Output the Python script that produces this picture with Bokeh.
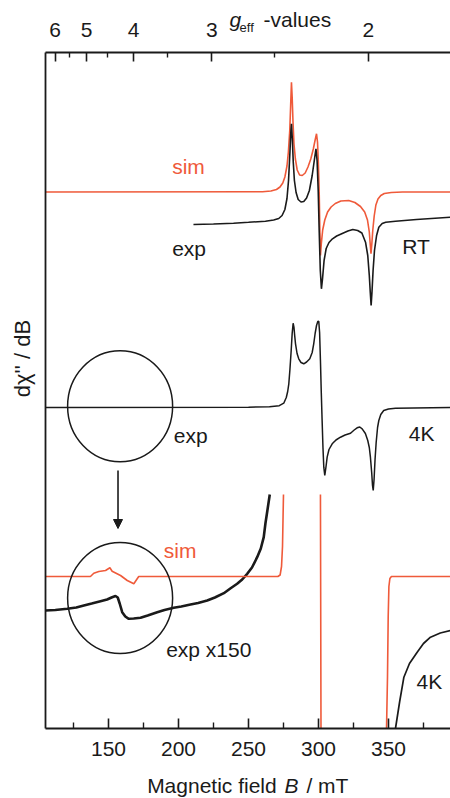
import numpy as np
from bokeh.plotting import figure
from bokeh.models import Range1d, LinearAxis, FixedTicker, Label, Arrow, NormalHead
from bokeh.embed import file_html
from bokeh.resources import INLINE

# ---------------- data ----------------
B_START, B_END = 105.0, 394.3        # field range of the axes, mT
HNU_OVER_MUB = 671.4                 # mT  (B = h*nu / (g*muB), X-band)

# g_eff ticks on the top axis
g_major = [6, 5, 4, 3, 2]
g_minor = [5.5, 4.5, 3.5, 2.5]
b_major = [150, 200, 250, 300, 350]
b_minor = [125, 175, 225, 275, 325, 375]

# Room temperature, simulation (relative intensity)
rt_sim_B = [105.0, 260.0, 266.0, 270.0, 272.5, 274.5, 276.0, 277.5, 278.5, 279.5, 280.2,
            280.7, 281.2, 281.8, 282.5, 283.5, 284.8, 286.5, 288.4, 290.5, 292.5, 294.5,
            296.3, 297.6, 298.6, 299.3, 299.9, 300.5, 301.0, 301.4, 302.0, 303.0, 304.5,
            306.5, 309.0, 312.0, 316.0, 321.6, 326.0, 330.0, 333.0, 335.0, 336.3, 337.0,
            337.5, 338.1, 338.8, 339.8, 341.0, 342.5, 344.5, 347.0, 352.0, 360.0, 394.3]
rt_sim_I = [0, 0.3, 1, 2.5, 5, 9, 15, 26, 40, 62, 90,
            109.8, 95, 70, 48, 33, 22, 17, 16.5, 19, 25, 33,
            43, 52, 58.2, 50, 30, 0, -40, -63.5, -52, -38, -28,
            -20, -15, -11.5, -9, -8.5, -10.5, -14.5, -20, -28, -40, -53,
            -61.8, -52, -38, -24, -13, -7, -3.5, -1.5, -0.5, 0, 0]
RT_SIM_OFFSET = 536.5

# Room temperature, experiment
rt_exp_B = [210.7, 225.0, 239.3, 250.0, 262.1, 268.0, 271.6, 274.0, 276.0, 277.5, 278.6,
            279.6, 280.3, 280.7, 281.3, 282.0, 282.8, 284.0, 285.5, 287.5, 289.5, 291.5,
            293.5, 295.5, 297.0, 298.2, 299.0, 299.8, 300.5, 301.3, 302.1, 302.9, 304.0,
            305.5, 307.5, 310.0, 313.0, 317.0, 321.0, 324.5, 328.0, 331.0, 333.6, 335.2,
            336.3, 337.0, 337.6, 338.2, 339.0, 340.0, 341.5, 343.1, 345.5, 348.0, 355.0,
            370.0, 394.3]
rt_exp_I = [-4, -3.5, -2.7, -1.8, -0.7, 0.5, 2, 5, 11, 22, 40,
            68, 90, 96.7, 82, 58, 40, 28, 21, 18.5, 19, 22.5,
            30, 45, 60, 71.7, 60, 30, -10, -50, -68.3, -58, -40,
            -28, -22, -18.3, -15.5, -13, -10.5, -9, -10, -12.5, -21.7, -35,
            -55, -72, -85, -72, -50, -30, -15, -6.7, -3, -1.7, -0.7,
            1, 3.3]
RT_EXP_OFFSET = 508

# 4 K, experiment
k4_exp_B = [105.0, 250.0, 265.0, 272.0, 275.2, 277.0, 278.0, 278.8, 279.6, 280.5, 281.2,
            281.9, 282.5, 283.0, 283.6, 284.7, 285.9, 287.5, 289.5, 291.5, 293.8, 295.5,
            296.6, 297.6, 298.6, 299.5, 300.2, 300.8, 301.4, 302.0, 302.6, 303.2, 303.8,
            304.5, 305.3, 306.2, 307.5, 309.8, 312.5, 315.7, 319.0, 322.9, 325.5, 327.6,
            329.5, 331.2, 333.5, 335.2, 336.3, 337.1, 338.0, 338.6, 339.1, 339.7, 340.4,
            341.2, 342.2, 343.1, 344.5, 346.6, 350.0, 355.0, 394.3]
k4_exp_I = [0, 0.3, 0.8, 1.8, 4.3, 10, 16, 23.7, 38, 57, 74,
            84.3, 80, 72, 63.7, 54, 48.7, 45, 43.7, 45.5, 48.7, 55,
            63.7, 74, 82, 86, 86.3, 75, 47, 15, -13, -40, -59.7,
            -68, -60, -49.7, -42, -36.3, -32.5, -29.7, -27.5, -25.7, -22.5, -20.3,
            -19.5, -21.3, -26, -33, -40, -49.7, -65, -78, -83, -72, -52,
            -35, -20, -13, -7, -3, -1.5, -0.7, 0]
K4_EXP_OFFSET = 321

# 4 K, x150 magnified: simulation (NaN = leaves the panel)
k4_sim150_B = [105.0, 137.1, 139.5, 143.1, 147.9, 151.0, 152.6, 158.6, 163.4, 168.1, 170.5,
               171.6, 271.0, 272.6, 273.6, 274.3, 274.7, 275.0, np.nan,
               301.4, 301.8, np.nan,
               348.6, 349.3, 349.8, 350.3, 351.0, 352.1, 394.3]
k4_sim150_I = [0, 0, 3.3, 5, 6, 8.7, 5.3, 1, -4, -7.3, -2.3,
               0, 0, 1.5, 10, 30, 60, 82, np.nan,
               82, -152, np.nan,
               -152, -100, -40, -10, -2, 0, 0]
# 4 K, x150 magnified: experiment
k4_exp150_B = [105.0, 112.0, 120.5, 127.0, 132.4, 138.0, 144.3, 149.0, 152.6, 155.0, 156.6,
               158.0, 159.8, 162.0, 164.5, 168.0, 172.9, 178.0, 184.8, 190.0, 196.6, 202.0,
               208.6, 214.0, 220.5, 226.0, 232.4, 237.0, 241.9, 245.5, 249.1, 252.5, 256.2,
               258.8, 260.9, 262.1, 263.5, 265.2]
k4_exp150_I = [-34, -33.5, -32.3, -31, -29, -27, -24.7, -23, -20.7, -19.5, -21,
               -27, -35.7, -40, -42.3, -42, -41.3, -39, -35.7, -33.5, -31.3, -30,
               -28, -26.5, -24, -21, -16.7, -12, -7.3, -3, 2.7, 9, 19.3,
               28, 39.3, 53, 66, 82]
k4_exp150b_B = [355.0, 358.0, 361.0, 365.0, 370.5, 375.0, 380.0, 387.0, 394.3]
k4_exp150b_I = [-152, -125, -100.7, -87, -75.7, -67, -60.7, -56.5, -54]
K4_150_OFFSET = 152

# ---------------- figure ----------------
RED = "#ef5a3a"
INK = "#1a1a1a"
FONT = "Liberation Sans"
FS = "21px"

# the frame fills the whole page; the axes sit at fixed data positions
p = figure(width=450, height=798, output_backend="svg", toolbar_location=None,
           x_range=Range1d(72.86, 394.3), y_range=Range1d(-70, 728),
           min_border=0)
p.outline_line_color = None
p.grid.visible = False
p.background_fill_color = "white"
p.border_fill_color = "white"

Y_BOTTOM, Y_TOP = 0, 676

def style_axis(ax, tick_in, minor_in, standoff):
    ax.major_tick_in = tick_in
    ax.major_tick_out = 0
    ax.minor_tick_in = minor_in
    ax.minor_tick_out = 0
    ax.axis_line_width = 1.8
    ax.major_tick_line_width = 1.6
    ax.minor_tick_line_width = 1.4
    ax.axis_line_color = INK
    ax.major_tick_line_color = INK
    ax.minor_tick_line_color = INK
    ax.major_label_text_font = FONT
    ax.major_label_text_font_size = FS
    ax.major_label_text_color = INK
    ax.major_label_standoff = standoff

# bottom axis
xa = p.xaxis[0]
xa.ticker = FixedTicker(ticks=b_major, minor_ticks=b_minor)
xa.fixed_location = Y_BOTTOM
xa.bounds = (B_START, B_END)
style_axis(xa, 10, 6, 13)

# left axis (line only)
ya = p.yaxis[0]
ya.ticker = FixedTicker(ticks=[])
ya.fixed_location = B_START
ya.bounds = (Y_BOTTOM, Y_TOP)
ya.major_tick_line_color = None
ya.minor_tick_line_color = None
ya.major_label_text_font_size = "0px"
ya.axis_line_width = 1.8
ya.axis_line_color = INK

# top g_eff axis
top = LinearAxis(ticker=FixedTicker(ticks=[HNU_OVER_MUB / g for g in g_major],
                                    minor_ticks=[HNU_OVER_MUB / g for g in g_minor]),
                 fixed_location=Y_TOP, bounds=(B_START, B_END))
top.major_label_overrides = {HNU_OVER_MUB / g: str(g) for g in g_major}
style_axis(top, 9, 5, 16)
p.add_layout(top, "above")

# traces
p.line(rt_sim_B, np.array(rt_sim_I) + RT_SIM_OFFSET, line_color=RED, line_width=1.6)
p.line(rt_exp_B, np.array(rt_exp_I) + RT_EXP_OFFSET, line_color=INK, line_width=1.6)
p.line(k4_exp_B, np.array(k4_exp_I) + K4_EXP_OFFSET, line_color=INK, line_width=1.5)
p.line(k4_exp150_B, np.array(k4_exp150_I) + K4_150_OFFSET, line_color=INK, line_width=2.6)
p.line(k4_exp150b_B, np.array(k4_exp150b_I) + K4_150_OFFSET, line_color=INK, line_width=1.7)
p.line(k4_sim150_B, np.array(k4_sim150_I) + K4_150_OFFSET, line_color=RED, line_width=1.6)

# magnifier circles and arrow
p.ellipse(x=[158.3, 158.3], y=[322.2, 130.5], width=75, height=111,
          fill_color=None, line_color=INK, line_width=1.5)
p.add_layout(Arrow(end=NormalHead(size=9, fill_color=INK, line_color=INK, line_width=1),
                   x_start=156.8, y_start=258, x_end=156.8, y_end=200,
                   line_color=INK, line_width=1.6))

def lab(x, y, text, color=INK, size=FS, style="normal", align="left",
        baseline="alphabetic", angle=0.0):
    p.add_layout(Label(x=x, y=y, text=text, text_color=color, text_font=FONT,
                       text_font_size=size, text_font_style=style, text_align=align,
                       text_baseline=baseline, angle=angle))

lab(195.5, 561.7, "sim", color=RED)
lab(195.5, 480, "exp")
lab(359.8, 482.3, "RT")
lab(196.6, 293.3, "exp")
lab(364.5, 295, "4K")
lab(189.5, 177.7, "sim", color=RED)
lab(191.2, 79, "exp x150")
lab(370.0, 46.7, "4K")

# top axis title: g_eff -values
lab(236.4, 709, "g", style="italic")
lab(243.6, 701, "eff", size="13px")
lab(260.7, 709, "-values")

# x axis title
lab(177.6, -57, "Magnetic field")
lab(275.7, -57, "B", style="italic")
lab(291.4, -57, "/ mT")

# y axis title
lab(88.6, 370, "d\u03c7'' / dB", size="22px", align="center", baseline="middle",
    angle=np.pi / 2)

open("out.html", "w").write(file_html(p, INLINE))
